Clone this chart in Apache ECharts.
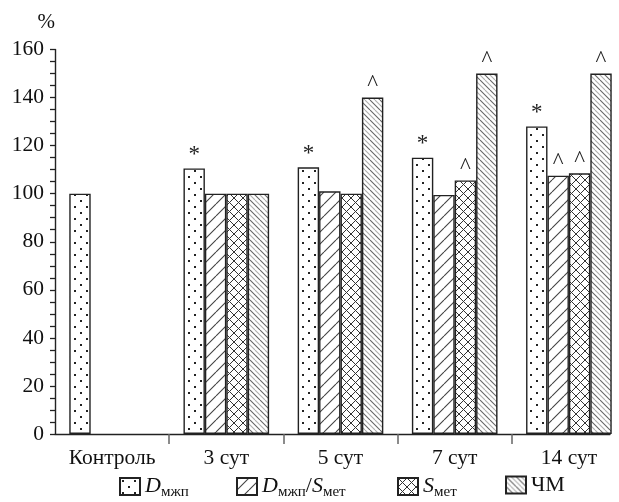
<!DOCTYPE html>
<html>
<head>
<meta charset="utf-8">
<script src="https://cdn.jsdelivr.net/npm/echarts@6/dist/echarts.min.js"></script>
<style>
  html, body { margin: 0; padding: 0; background: #fff; }
  #chart { width: 619px; height: 502px; }
</style>
</head>
<body>
<div id="chart"></div>
<script>
// Categories and series values (%)
const categories = ['Контроль', '3 сут', '5 сут', '7 сут', '14 сут'];
const dMzhp      = [100, 110.5, 111, 115, 128];
const dMzhpSMet  = [null, 100, 101, 99.5, 107.5];
const sMet       = [null, 100, 100, 105.5, 108.5];
const chm        = [null, 100, 140, 150, 150];

// Significance marks drawn above bars
const dMzhpMarks     = ['', '*', '*', '*', '*'];
const dMzhpSMetMarks = ['', '', '', '', '^'];
const sMetMarks      = ['', '', '', '^', '^'];
const chmMarks       = ['', '', '^', '^', '^'];

const yTicks = { min: 0, max: 160, interval: 20 };

const SERIF = '"Liberation Serif", "DejaVu Serif", serif';

// Hatch / dot fill tiles
function tile(w, h, draw) {
  const c = document.createElement('canvas');
  c.width = w; c.height = h;
  const g = c.getContext('2d');
  g.fillStyle = '#fff';
  g.fillRect(0, 0, w, h);
  draw(g, w, h);
  return { image: c, repeat: 'repeat' };
}
function diag(g, w, h, dir, color, lw) {
  g.strokeStyle = color; g.lineWidth = lw;
  g.beginPath();
  for (let k = -1; k <= 1; k++) {
    if (dir > 0) { g.moveTo(k * w, h); g.lineTo(k * w + w, 0); }
    else { g.moveTo(k * w, 0); g.lineTo(k * w + w, h); }
  }
  g.stroke();
}
const dotFill = tile(12, 12, (g) => {
  g.fillStyle = '#222';
  g.fillRect(2, 2, 2, 2);
  g.fillRect(8, 8, 2, 2);
});
const slashFill = tile(12, 12, (g, w, h) => diag(g, w, h, 1, '#444', 1.1));
const crossFill = tile(9, 9, (g, w, h) => {
  diag(g, w, h, 1, '#333', 1);
  diag(g, w, h, -1, '#333', 1);
});
const backFill = tile(10, 10, (g, w, h) => {
  diag(g, w, h, -1, '#666', 1.1);
  g.save(); g.translate(5, 0);
  diag(g, w, h, -1, '#b0b0b0', 1.1);
  g.restore();
});

function markLabel(marks) {
  return {
    show: true,
    position: 'top',
    distance: 2,
    color: '#222',
    fontFamily: SERIF,
    fontSize: 23,
    formatter: (p) => marks[p.dataIndex]
  };
}

function barSeries(name, data, fill, marks) {
  return {
    name: name,
    type: 'bar',
    xAxisIndex: 0,
    yAxisIndex: 0,
    data: data,
    barGap: '0%',
    barCategoryGap: '25%',
    itemStyle: { color: fill, borderColor: '#222', borderWidth: 1.4 },
    label: markLabel(marks),
    emphasis: { disabled: true }
  };
}

// Legend captions: italic symbol with upright subscript
const legendText = {
  'D_mzhp': '{i|D}{s|мжп}',
  'D_mzhp/S_met': '{i|D}{s|мжп}{n|/}{i|S}{s|мет}',
  'S_met': '{i|S}{s|мет}',
  'CHM': '{n|ЧМ}'
};
const legendLeft = { 'D_mzhp': 114, 'D_mzhp/S_met': 231, 'S_met': 392, 'CHM': 500 };
const legendBottom = { 'D_mzhp': -3, 'D_mzhp/S_met': -3, 'S_met': -3, 'CHM': 1 };

const legendRich = {
  i: { fontFamily: SERIF, fontSize: 22, fontStyle: 'italic', color: '#111', lineHeight: 26, verticalAlign: 'middle' },
  n: { fontFamily: SERIF, fontSize: 22, color: '#111', lineHeight: 26, verticalAlign: 'middle' },
  s: { fontFamily: SERIF, fontSize: 15, color: '#111', lineHeight: 26, padding: [12, 0, 0, 0], verticalAlign: 'middle' }
};

const legends = Object.keys(legendText).map((name) => ({
  data: [name],
  left: legendLeft[name],
  bottom: legendBottom[name],
  itemWidth: 20,
  itemHeight: 17,
  itemGap: 4,
  icon: 'rect',
  selectedMode: false,
  formatter: (n) => legendText[n],
  textStyle: { color: '#111', fontFamily: SERIF, fontSize: 22, rich: legendRich }
}));

const chart = echarts.init(document.getElementById('chart'), null, { renderer: 'canvas' });
chart.setOption({
  animation: false,
  backgroundColor: '#fff',
  grid: [
    { left: 55, width: 571, top: 49.5, bottom: 68, outerBoundsMode: 'none', containLabel: false },
    { left: 55, right: 9, top: 49.5, bottom: 68, outerBoundsMode: 'none', containLabel: false }
  ],
  xAxis: [
    {
      type: 'category',
      gridIndex: 0,
      data: categories,
      axisLine: { show: false },
      axisTick: {
        show: true, length: 10,
        lineStyle: { color: '#666', width: 1.5 },
        interval: (i) => i > 0 && i < categories.length
      },
      axisLabel: { color: '#111', fontFamily: SERIF, fontSize: 21.5, margin: 13, interval: 0 },
      splitLine: { show: false }
    },
    {
      type: 'value',
      gridIndex: 1,
      min: 0, max: 1,
      axisLine: { show: true, lineStyle: { color: '#222', width: 1.4 } },
      axisTick: { show: false },
      axisLabel: { show: false },
      splitLine: { show: false }
    }
  ],
  yAxis: [
    {
      type: 'value',
      gridIndex: 0,
      min: yTicks.min, max: yTicks.max, interval: yTicks.interval,
      name: '%',
      nameLocation: 'end',
      nameGap: 17,
      nameTextStyle: { color: '#111', fontFamily: SERIF, fontSize: 21, align: 'right' },
      axisLine: { show: true, lineStyle: { color: '#222', width: 1.4 } },
      axisTick: { show: true, length: 5, lineStyle: { color: '#222', width: 1.3 } },
      minorTick: { show: true, splitNumber: 4, length: 5, lineStyle: { color: '#222', width: 1.3 } },
      axisLabel: { color: '#111', fontFamily: SERIF, fontSize: 21.5, margin: 11 },
      splitLine: { show: false }
    },
    {
      type: 'value', gridIndex: 1, min: 0, max: 160, show: false
    }
  ],
  legend: legends,
  series: [
    barSeries('D_mzhp', dMzhp, dotFill, dMzhpMarks),
    barSeries('D_mzhp/S_met', dMzhpSMet, slashFill, dMzhpSMetMarks),
    barSeries('S_met', sMet, crossFill, sMetMarks),
    barSeries('CHM', chm, backFill, chmMarks)
  ]
});
</script>
</body>
</html>
